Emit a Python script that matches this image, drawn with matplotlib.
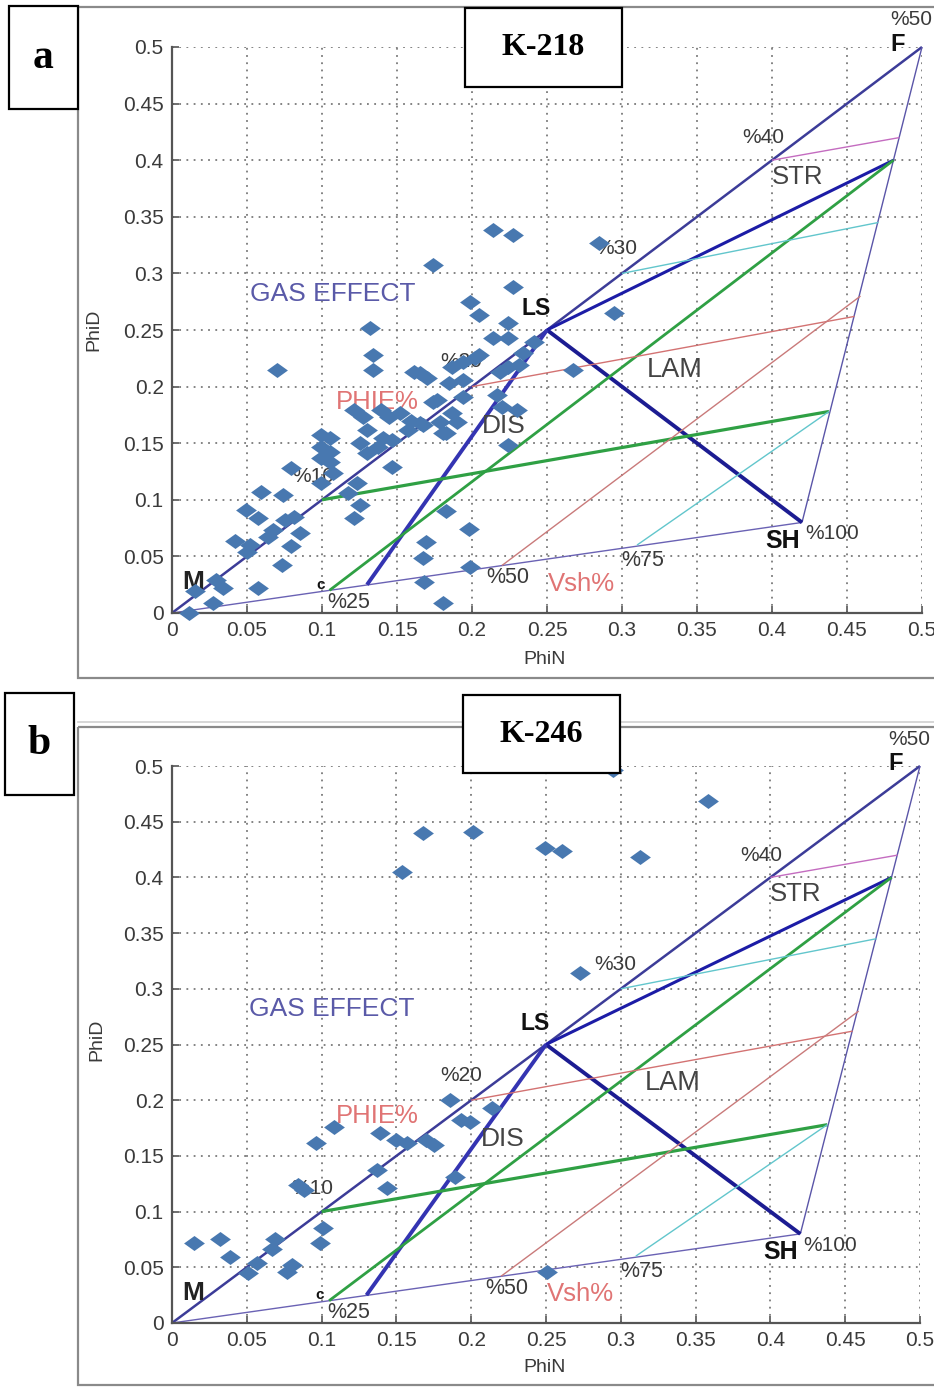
import matplotlib
matplotlib.use("Agg")
import matplotlib.pyplot as plt
from matplotlib.patches import Rectangle

plt.rcParams['font.family'] = ['Liberation Sans', 'DejaVu Sans']

W, H = 934, 1387

# ---------------------------------------------------------------- data
# well K-218 (panel a): neutron / density porosity of the samples
phin_a = [0.214, 0.227, 0.285, 0.174, 0.227, 0.199, 0.205, 0.295, 0.132, 0.224,
          0.214, 0.224, 0.241, 0.234, 0.134, 0.205, 0.194, 0.202, 0.187, 0.267,
          0.224, 0.231, 0.219, 0.070, 0.134, 0.161, 0.170, 0.185, 0.194, 0.177,
          0.194, 0.187, 0.179, 0.183, 0.217, 0.220, 0.230, 0.224, 0.165, 0.165,
          0.121, 0.127, 0.139, 0.145, 0.152, 0.159, 0.157, 0.130, 0.141, 0.125,
          0.137, 0.147, 0.130, 0.174, 0.181, 0.147, 0.099, 0.105, 0.099, 0.105,
          0.099, 0.105, 0.107, 0.099, 0.079, 0.117, 0.123, 0.125, 0.121, 0.190,
          0.167, 0.059, 0.074, 0.049, 0.057, 0.075, 0.081, 0.085, 0.042, 0.052,
          0.050, 0.064, 0.067, 0.079, 0.073, 0.057, 0.034, 0.027, 0.015, 0.011,
          0.029, 0.169, 0.167, 0.168, 0.181, 0.183, 0.198, 0.199]
phid_a = [0.338, 0.334, 0.327, 0.307, 0.288, 0.275, 0.263, 0.265, 0.252, 0.256,
          0.243, 0.243, 0.239, 0.230, 0.228, 0.228, 0.222, 0.225, 0.217, 0.215,
          0.217, 0.219, 0.213, 0.215, 0.215, 0.213, 0.208, 0.203, 0.206, 0.188,
          0.191, 0.177, 0.169, 0.159, 0.193, 0.182, 0.179, 0.148, 0.212, 0.168,
          0.179, 0.173, 0.179, 0.173, 0.177, 0.170, 0.162, 0.162, 0.155, 0.150,
          0.147, 0.153, 0.141, 0.186, 0.159, 0.129, 0.157, 0.155, 0.147, 0.142,
          0.137, 0.133, 0.124, 0.115, 0.128, 0.106, 0.115, 0.095, 0.084, 0.169,
          0.166, 0.107, 0.104, 0.091, 0.084, 0.082, 0.085, 0.071, 0.064, 0.060,
          0.054, 0.067, 0.073, 0.059, 0.042, 0.022, 0.022, 0.009, 0.019, 0.000,
          0.029, 0.063, 0.049, 0.027, 0.009, 0.090, 0.074, 0.041]

# well K-246 (panel b)
phin_b = [0.168, 0.154, 0.201, 0.249, 0.261, 0.313, 0.358, 0.295, 0.273, 0.186,
          0.193, 0.199, 0.214, 0.108, 0.096, 0.139, 0.150, 0.157, 0.170, 0.175,
          0.137, 0.144, 0.189, 0.084, 0.088, 0.101, 0.099, 0.015, 0.032, 0.039,
          0.069, 0.067, 0.057, 0.051, 0.080, 0.077, 0.251]
phid_b = [0.440, 0.405, 0.441, 0.426, 0.424, 0.418, 0.469, 0.496, 0.314, 0.200,
          0.182, 0.180, 0.193, 0.176, 0.162, 0.171, 0.164, 0.162, 0.164, 0.160,
          0.137, 0.121, 0.131, 0.124, 0.119, 0.085, 0.072, 0.072, 0.075, 0.059,
          0.075, 0.066, 0.054, 0.045, 0.052, 0.046, 0.046]

ticks = [0, 0.05, 0.1, 0.15, 0.2, 0.25, 0.3, 0.35, 0.4, 0.45, 0.5]
tick_labels = ["0", "0.05", "0.1", "0.15", "0.2", "0.25", "0.3", "0.35", "0.4", "0.45", "0.5"]

# Thomas-Stieber model end members and construction lines (PhiN, PhiD)
M, F, LS, SH = (0.0, 0.0), (0.5, 0.5), (0.25, 0.25), (0.42, 0.08)
STR_END = (0.481, 0.40)
DIS_END = (0.13, 0.025)
segments = {
    "clean":   (M, F),
    "shale":   (M, SH),
    "wall":    (F, SH),
    "lam":     (LS, SH),
    "str":     (LS, STR_END),
    "dis":     (LS, DIS_END),
    "green1":  ((0.10, 0.10), (0.438, 0.178)),
    "green2":  ((0.105, 0.02), STR_END),
    "red1":    ((0.20, 0.20), (0.455, 0.262)),
    "red2":    ((0.22, 0.042), (0.459, 0.28)),
    "cyan1":   ((0.30, 0.30), (0.471, 0.345)),
    "cyan2":   ((0.31, 0.06), (0.438, 0.178)),
    "magenta": ((0.40, 0.40), (0.485, 0.42)),
}

# ---------------------------------------------------------------- styles
seg_style = {
    "clean":   ("#3c3c98", 1.8),
    "shale":   ("#6a62b4", 1.0),
    "wall":    ("#5a55a8", 1.0),
    "lam":     ("#1c1c92", 2.8),
    "str":     ("#1c1ca6", 2.2),
    "dis":     ("#3434b2", 2.8),
    "green1":  ("#2fa044", 2.3),
    "green2":  ("#2fa044", 2.0),
    "red1":    ("#d37272", 1.0),
    "red2":    ("#c97a7a", 1.0),
    "cyan1":   ("#62c6cc", 1.0),
    "cyan2":   ("#62c6cc", 1.0),
    "magenta": ("#c46cc0", 1.0),
}
MARK = "#4878b0"
GREY = "#444444"
PCT = "#3a3a3a"
REDTXT = "#e07474"
GASTXT = "#5a5aa8"
DIAMOND = [(-1, 0), (0, 0.72), (1, 0), (0, -0.72), (-1, 0)]

labels = [
    ("%50", 0.493, 0.524, PCT, 15, "normal"),
    ("F", 0.484, 0.502, "#111111", 17, "bold"),
    ("%40", 0.394, 0.420, PCT, 15, "normal"),
    ("STR", 0.417, 0.385, GREY, 18.5, "normal"),
    ("%30", 0.296, 0.322, PCT, 15, "normal"),
    ("LS", 0.243, 0.269, "#111111", 16.5, "bold"),
    ("GAS EFFECT", 0.107, 0.282, GASTXT, 19, "normal"),
    ("%20", 0.193, 0.222, PCT, 15, "normal"),
    ("PHIE%", 0.137, 0.186, REDTXT, 18.5, "normal"),
    ("DIS", 0.221, 0.165, GREY, 19, "normal"),
    ("LAM", 0.335, 0.215, GREY, 19.5, "normal"),
    ("%10", 0.094, 0.121, PCT, 15, "normal"),
    ("SH", 0.407, 0.064, "#111111", 18, "bold"),
    ("%100", 0.440, 0.070, PCT, 15, "normal"),
    ("%75", 0.314, 0.046, PCT, 15.5, "normal"),
    ("%50", 0.224, 0.031, PCT, 15.5, "normal"),
    ("Vsh%", 0.273, 0.026, REDTXT, 18.5, "normal"),
    ("%25", 0.118, 0.009, PCT, 15.5, "normal"),
    ("M", 0.014, 0.027, "#222222", 19, "bold"),
    ("c", 0.099, 0.025, "#111111", 11, "bold"),
]


def px_axes(fig, x0, y0, x1, y1, **kw):
    """Axes placed by pixel box (top-left origin)."""
    return fig.add_axes([x0 / W, 1 - y1 / H, (x1 - x0) / W, (y1 - y0) / H], **kw)


def draw_panel(ax, phin, phid):
    ax.set_xlim(0, 0.5)
    ax.set_ylim(0, 0.5)
    ax.set_xticks(ticks)
    ax.set_yticks(ticks)
    ax.set_xticklabels(tick_labels)
    ax.set_yticklabels(tick_labels)
    ax.tick_params(direction="in", length=5, width=1.2, colors="#555555",
                   labelcolor="#3a3a3a", labelsize=15, pad=6)
    ax.grid(True, color="#7a7a7a", linestyle=(0, (1, 3.0)), linewidth=1.3)
    ax.set_axisbelow(True)
    for side in ("top", "right"):
        ax.spines[side].set_visible(False)
    for side in ("left", "bottom"):
        ax.spines[side].set_color("#555555")
        ax.spines[side].set_linewidth(1.6)

    for name, (p, q) in segments.items():
        col, lw = seg_style[name]
        ax.plot([p[0], q[0]], [p[1], q[1]], "-", color=col, lw=lw,
                solid_capstyle="butt", zorder=2, clip_on=False)

    for txt, x, y, col, fs, fw in labels:
        ax.text(x, y, txt, color=col, fontsize=fs, fontweight=fw,
                ha="center", va="center", zorder=3, clip_on=False)

    ax.plot(phin, phid, linestyle="none", marker=DIAMOND, ms=15,
            color=MARK, mec=MARK, mew=0, zorder=4, clip_on=False)


fig = plt.figure(figsize=(W / 100, H / 100), dpi=100)

# screenshot frames behind everything
bg = fig.add_axes([0, 0, 1, 1], zorder=0)
bg.set_xlim(0, W)
bg.set_ylim(H, 0)
bg.axis("off")
bg.add_patch(Rectangle((78, 7), 900, 671, fill=False, ec="#8a8a8a", lw=1.6))
bg.plot([78, W], [722, 722], color="#cfcfcf", lw=1.2)
bg.add_patch(Rectangle((78, 727), 900, 658, fill=False, ec="#8a8a8a", lw=1.6))

ax_a = px_axes(fig, 172, 47, 922, 613, zorder=1)
ax_b = px_axes(fig, 172, 766, 920, 1323, zorder=1)
for ax in (ax_a, ax_b):
    ax.patch.set_alpha(0)
draw_panel(ax_a, phin_a, phid_a)
draw_panel(ax_b, phin_b, phid_b)

fig.text(545 / W, 1 - 660 / H, "PhiN", ha="center", va="center", fontsize=14, color="#3a3a3a")
fig.text(94 / W, 1 - 330 / H, "PhiD", ha="center", va="center", fontsize=14,
         color="#3a3a3a", rotation=90)
fig.text(545 / W, 1 - 1368 / H, "PhiN", ha="center", va="center", fontsize=14, color="#3a3a3a")
fig.text(97 / W, 1 - 1040 / H, "PhiD", ha="center", va="center", fontsize=14,
         color="#3a3a3a", rotation=90)

# panel letters and well names on top
ov = fig.add_axes([0, 0, 1, 1], zorder=10)
ov.set_xlim(0, W)
ov.set_ylim(H, 0)
ov.axis("off")
ov.patch.set_alpha(0)
boxes = [
    ("a", 9, 6, 78, 109, 30),
    ("K-218", 465, 8, 622, 87, 23),
    ("b", 5, 693, 74, 795, 30),
    ("K-246", 463, 695, 620, 773, 23),
]
for txt, x0, y0, x1, y1, fs in boxes:
    ov.add_patch(Rectangle((x0, y0), x1 - x0, y1 - y0, fc="white", ec="black", lw=1.6))
    ov.text((x0 + x1) / 2, (y0 + y1) / 2, txt, ha="center", va="center",
            fontsize=fs, fontweight="bold", family=["Liberation Serif", "DejaVu Serif"])

fig.savefig("out.png", dpi=100)
